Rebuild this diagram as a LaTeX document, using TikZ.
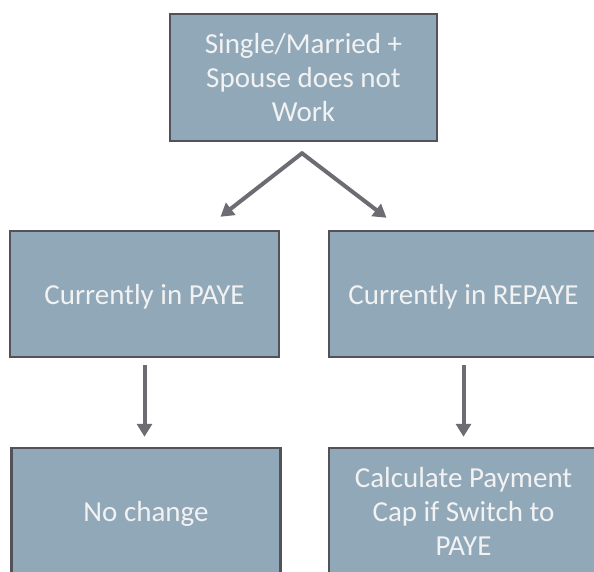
\documentclass[tikz,border=0pt]{standalone}
\usepackage{fontspec}
\setmainfont{Carlito}
\usepackage{tikz}
\usetikzlibrary{calc,arrows.meta}

\definecolor{boxfill}{RGB}{145,168,185}
\definecolor{boxline}{RGB}{82,82,88}
\definecolor{arrowgray}{RGB}{108,108,114}

\tikzset{
    stepbox/.style={draw=boxline, line width=2.5pt, fill=boxfill, text=white!95!black,
        minimum width=269, minimum height=126, align=center,
        font=\fontsize{29}{34}\selectfont},
    oneline/.style={stepbox, text depth=0pt},
    flow/.style={draw=arrowgray, line width=4pt, -{Triangle[length=13pt,width=15pt]}}
}

\begin{document}
\begin{tikzpicture}[x=1pt,y=-1pt]
        \clip (0,0) rectangle (594,571);
        \fill[white] (0,0) rectangle (594,571);
        % boxes
        \node[stepbox, minimum width=267, minimum height=127] (status) at (303.5,77.5)
            {Single/Married +\\Spouse does not\\Work};
        \node[oneline] (paye) at (144.5,294) {Currently in PAYE};
        \node[oneline] (repaye) at (463.5,294) {Currently in REPAYE};
        \node[oneline] (nochange) at (146,511) {No change};
        \node[stepbox] (paycap) at (463.5,511)
            {Calculate Payment\\Cap if Switch to\\PAYE};
        % arrows
        \coordinate (split) at ($(status.south)+(-1.5,11)$);
        \draw[flow, line cap=round] (split) -- ($(paye.north)+(76,-13)$);
        \draw[flow, line cap=round] (split) -- ($(repaye.north)+(-77,-12)$);
        \draw[flow, shorten <=7pt, shorten >=10pt] (paye.south) -- (paye.south |- nochange.north);
        \draw[flow, shorten <=7pt, shorten >=10pt] (repaye.south) -- (paycap.north);
    \end{tikzpicture}
\end{document}
